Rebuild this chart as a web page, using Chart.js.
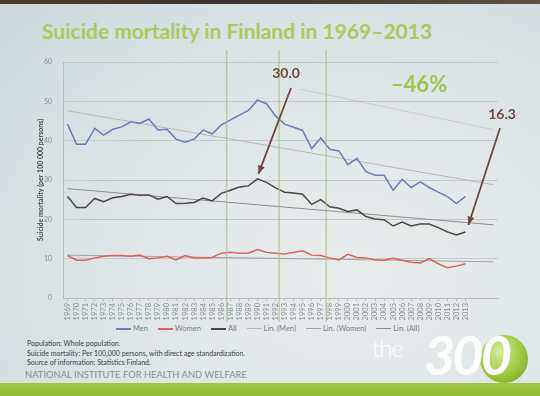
<!DOCTYPE html>
<html>
<head>
<meta charset="utf-8">
<script src="https://cdn.jsdelivr.net/npm/chart.js@4.4.1/dist/chart.umd.min.js"></script>
<style>
  html, body { margin: 0; padding: 0; }
  body {
    width: 540px; height: 396px; overflow: hidden; position: relative;
    font-family: Lato, "Open Sans", sans-serif;
    background: radial-gradient(ellipse at 65% 70%, #e9eced 0%, #e0e6e8 45%, #cdd8db 100%);
  }
  #topband { position: absolute; left: 0; top: 0; width: 540px; height: 4px; background: linear-gradient(90deg, #4a3d30, #3a3430 40%, #5a5048); }
  #title {
    position: absolute; left: 42px; top: 18px; font-size: 21px; font-weight: bold;
    color: #abcb5e; white-space: nowrap;
  }
  #wrap { position: absolute; left: 0; top: 0; width: 540px; height: 322px; }
  #legend { position: absolute; left: 116px; top: 324px; display: flex; gap: 10px; font-size: 7.5px; color: #7a7f85; white-space: nowrap; }
  #legend span.item { display: flex; align-items: center; }
  #legend span.ln { display: inline-block; width: 15px; height: 2px; margin-right: 2px; }
  #notes { position: absolute; left: 27px; top: 339px; font-size: 7px; line-height: 9.5px; color: #3a3f47; }
  #inst { position: absolute; left: 25px; top: 369px; font-size: 9.3px; letter-spacing: 0.05px; color: #8a9096; }
  #bottomband { position: absolute; left: 0; top: 383px; width: 540px; height: 13px; background: linear-gradient(#a4c740, #92b935); }
  #mark-the { position: absolute; left: 372px; top: 333px; font-size: 24px; color: #ffffff; font-weight: 300; letter-spacing: -1px; }
  #mark-300 { position: absolute; left: 424px; top: 322px; font-size: 54px; color: #ffffff; font-style: italic; font-weight: bold; letter-spacing: -3px; }
  #ball { position: absolute; left: 480px; top: 335px; width: 48px; height: 48px; border-radius: 50%;
    background: radial-gradient(circle at 40% 35%, #d8ec9a 0%, #9cc83e 55%, #6f9c22 100%); }
</style>
</head>
<body>
<div id="topband"></div>
<div id="title">Suicide mortality in Finland in 1969–2013</div>
<div id="wrap"><canvas id="chart"></canvas></div>
<div id="legend"></div>
<div id="notes">Population: Whole population.<br>Suicide mortality: Per 100,000 persons, with direct age standardization.<br>Source of information: Statistics Finland.</div>
<div id="inst">NATIONAL INSTITUTE FOR HEALTH AND WELFARE</div>
<div id="bottomband"></div>
<div id="ball"></div>
<div id="mark-the">the</div>
<div id="mark-300">300</div>
<script>
// years 1969-2013
const years = [1969,1970,1971,1972,1973,1974,1975,1976,1977,1978,1979,1980,1981,1982,1983,1984,1985,1986,1987,1988,1989,1990,
  1991,1992,1993,1994,1995,1996,1997,1998,1999,2000,2001,2002,2003,2004,2005,2006,2007,2008,2009,2010,2011,2012,2013];

const men = [44.2,39.1,39.1,43.1,41.4,42.9,43.5,44.8,44.4,45.5,42.7,42.9,40.4,39.6,40.4,42.7,41.7,44.0,45.2,46.5,47.7,50.3,
  49.4,46.3,44.2,43.4,42.6,38.0,40.7,37.8,37.4,33.9,35.5,32.1,31.2,31.2,27.4,30.2,28.1,29.5,28.1,26.9,25.8,24.0,25.8];

const women = [10.8,9.6,9.6,10.2,10.6,10.8,10.8,10.6,10.9,10.0,10.2,10.6,9.7,10.8,10.2,10.2,10.3,11.4,11.6,11.4,11.4,12.3,
  11.6,11.4,11.2,11.6,12.0,10.9,10.8,10.2,9.7,11.1,10.3,10.2,9.7,9.6,10.1,9.6,9.1,8.9,10.0,8.7,7.7,8.1,8.7];

const all = [25.8,23.0,23.0,25.3,24.5,25.5,25.8,26.4,26.1,26.2,25.1,25.8,24.0,24.1,24.3,25.4,24.7,26.6,27.4,28.2,28.5,30.3,
  29.4,28.0,26.9,26.7,26.4,23.8,25.0,23.2,22.8,22.0,22.4,20.7,20.1,19.9,18.3,19.3,18.3,18.8,18.8,17.9,16.8,16.0,16.8];

// linear trend endpoints
const trendYears = [1969, 2016.1];
const menTrend = [47.6, 28.8];
const womenTrend = [10.9, 9.2];
const allTrend = [27.8, 18.6];

const yTicks = [0,10,20,30,40,50,60];
const markYears = [1986.6, 1992.4, 1997.6];

function pts(xs, ys){
  let out = [];
  for(let i = 0; i < xs.length; i++){
    out.push({x: xs[i], y: ys[i]});
  }
  return out;
}

const extras = {
  id: 'extras',
  beforeDatasetsDraw(chart){
    const {ctx, scales: {x, y}} = chart;
    ctx.save();
    // faint line top right
    ctx.strokeStyle = 'rgba(150,150,150,0.3)';
    ctx.lineWidth = 1;
    ctx.beginPath();
    ctx.moveTo(x.getPixelForValue(1994.7), y.getPixelForValue(53.1));
    ctx.lineTo(x.getPixelForValue(2016.1), y.getPixelForValue(42.8));
    ctx.stroke();
    ctx.restore();
  },
  afterDatasetsDraw(chart){
    const {ctx, scales: {x, y}} = chart;
    ctx.save();
    ctx.strokeStyle = 'rgba(172,196,125,0.7)';
    ctx.lineWidth = 1.5;
    for(let m of markYears){
      const px = x.getPixelForValue(m);
      ctx.beginPath();
      ctx.moveTo(px, 50);
      ctx.lineTo(px, 335);
      ctx.stroke();
    }
    // labels + arrows
    ctx.fillStyle = '#6e4a3c';
    ctx.strokeStyle = '#6e4a3c';
    ctx.font = 'bold 14px Lato';
    ctx.textAlign = 'center';
    ctx.textBaseline = 'middle';
    ctx.fillText('30.0', 286, 73);
    ctx.fillText('16.3', 502, 114);
    arrow(ctx, 291, 88, x.getPixelForValue(1990) + 1, y.getPixelForValue(30.3) - 5);
    arrow(ctx, 500, 128, x.getPixelForValue(2013) + 3, y.getPixelForValue(16.8) - 7);
    ctx.fillStyle = '#9cc650';
    ctx.font = 'bold 22px Lato';
    ctx.fillText('\u201346%', 419, 85);
    ctx.restore();
  }
};

function arrow(ctx, x1, y1, x2, y2){
  ctx.lineWidth = 1.8;
  ctx.beginPath();
  ctx.moveTo(x1, y1);
  ctx.lineTo(x2, y2);
  ctx.stroke();
  const a = Math.atan2(y2 - y1, x2 - x1);
  const len = 9;
  ctx.beginPath();
  ctx.moveTo(x2, y2);
  ctx.lineTo(x2 - len * Math.cos(a - 0.4), y2 - len * Math.sin(a - 0.4));
  ctx.lineTo(x2 - len * Math.cos(a + 0.4), y2 - len * Math.sin(a + 0.4));
  ctx.closePath();
  ctx.fill();
}

const chart = new Chart('chart', {
  type: 'line',
  data: {
    datasets: [
      {label: 'Men', data: pts(years, men), borderColor: '#6d7bc3', borderWidth: 1.5},
      {label: 'Women', data: pts(years, women), borderColor: '#e0625c', borderWidth: 1.5},
      {label: 'All', data: pts(years, all), borderColor: '#51463f', borderWidth: 1.5},
      {label: 'Lin. (Men)', data: pts(trendYears, menTrend), borderColor: '#b8b8b8', borderWidth: 1},
      {label: 'Lin. (Women)', data: pts(trendYears, womenTrend), borderColor: '#a5a5a5', borderWidth: 1},
      {label: 'Lin. (All)', data: pts(trendYears, allTrend), borderColor: '#8f8f8f', borderWidth: 1}
    ]
  },
  options: {
    responsive: true,
    maintainAspectRatio: false,
    animation: false,
    elements: { point: { radius: 0 }, line: { tension: 0 } },
    layout: { padding: { top: 62, right: 42, left: 37, bottom: 0 } },
    scales: {
      x: {
        type: 'linear', min: 1968.5, max: 2016.6,
        afterFit(s){ s.height = 24; },
        afterBuildTicks(s){ s.ticks = years.map(v => ({value: v})); },
        ticks: {
          autoSkip: false, minRotation: 90, maxRotation: 90, padding: 2,
          color: '#8a8f94', font: { size: 7.5, family: 'Lato' },
          callback: v => String(v)
        },
        grid: { drawOnChartArea: false, tickLength: 3, color: '#b9bdc0' },
        border: { color: '#b9bdc0' }
      },
      y: {
        min: 0, max: 60,
        afterFit(s){ s.width = 26; },
        afterBuildTicks(s){ s.ticks = yTicks.map(v => ({value: v})); },
        ticks: { color: '#8a8f94', font: { size: 7, family: 'Lato' }, padding: 11 },
        grid: { color: '#c4c9cb', drawTicks: false },
        border: { color: '#b9bdc0' },
        title: {
          display: true, text: 'Suicide mortality (per 100 000 persons)',
          color: '#4a4a4a', font: { size: 7, weight: 'bold', family: 'Lato' }, padding: 0
        }
      }
    },
    plugins: {
      legend: { display: false },
      tooltip: { enabled: false }
    }
  },
  plugins: [extras]
});

// legend in html, from the datasets
let legendBox = document.getElementById('legend');
for(let ds of chart.data.datasets){
  legendBox.insertAdjacentHTML('beforeend',
    `<span class="item"><span class="ln" style="background:${ds.borderColor};height:${ds.borderWidth > 1 ? 2 : 1.2}px"></span>${ds.label}</span>`);
}
</script>
</body>
</html>
